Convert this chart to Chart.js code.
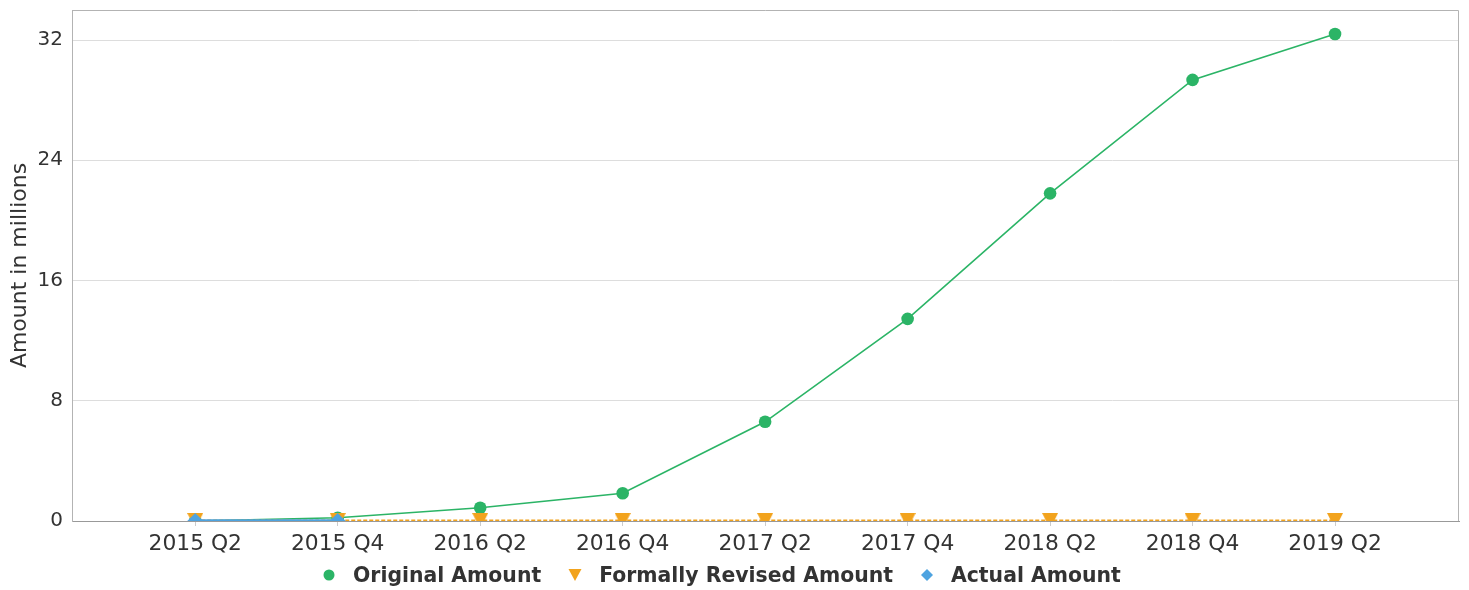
<!DOCTYPE html>
<html>
<head>
<meta charset="utf-8">
<script src="https://cdn.jsdelivr.net/npm/chart.js@4/dist/chart.umd.min.js"></script>
<style>
  html, body { margin: 0; padding: 0; background: #fff; }
  #wrap { width: 1469px; height: 590px; position: relative; overflow: hidden; }
  #legend {
    position: absolute; left: 322px; top: 562px; height: 26px;
    display: flex; align-items: center;
    font-family: 'DejaVu Sans', sans-serif; font-weight: bold; font-size: 20.4px;
    color: #333333; white-space: nowrap; line-height: 26px;
  }
  .item { display: flex; align-items: center; margin-right: 27px; }
  .item svg { width: 14px; height: 14px; margin-right: 17px; display: block; }
</style>
</head>
<body>
<div id="wrap">
  <canvas id="c" width="1469" height="590"></canvas>
  <div id="legend"></div>
</div>
<script>
const categories = ["2015 Q2", "2015 Q4", "2016 Q2", "2016 Q4", "2017 Q2", "2017 Q4", "2018 Q2", "2018 Q4", "2019 Q2"];
const originalAmount = [0, 0.22, 0.88, 1.85, 6.6, 13.45, 21.8, 29.35, 32.4];
const revisedAmount = [0, 0, 0, 0, 0, 0, 0, 0, 0];
const actualAmount = [0, 0];
const yTicks = [0, 8, 16, 24, 32];
const seriesNames = ["Original Amount", "Formally Revised Amount", "Actual Amount"];

const GREEN = '#2bb466', ORANGE = '#f2a31d', BLUE = '#4ea3e0';
const toPts = arr => arr.map((v, i) => ({ x: i, y: v }));
const FONT = "'DejaVu Sans', sans-serif";

// Highcharts-style down triangle marker (full box, point at bottom)
function triDown(size, color) {
  const c = document.createElement('canvas');
  c.width = size; c.height = size;
  const g = c.getContext('2d');
  g.fillStyle = color;
  g.beginPath(); g.moveTo(0, 0); g.lineTo(size, 0); g.lineTo(size / 2, size); g.closePath(); g.fill();
  return c;
}
const triImg = triDown(16, ORANGE);

const borderPlugin = {
  id: 'plotBorder',
  beforeDatasetsDraw(chart) {
    const a = chart.chartArea, ctx = chart.ctx;
    ctx.save();
    ctx.strokeStyle = '#b3b3b3';
    ctx.lineWidth = 1;
    ctx.beginPath();
    ctx.moveTo(Math.round(a.left), Math.round(a.top) + 0.5);
    ctx.lineTo(Math.round(a.right) - 0.5, Math.round(a.top) + 0.5);
    ctx.lineTo(Math.round(a.right) - 0.5, Math.round(a.bottom));
    ctx.stroke();
    ctx.restore();
  }
};

const clipBottom = { left: false, right: false, top: false, bottom: 0 };

const chart = new Chart(document.getElementById('c'), {
  type: 'line',
  data: {
    datasets: [
      {
        label: seriesNames[0],
        data: toPts(originalAmount),
        borderColor: GREEN,
        backgroundColor: GREEN,
        borderWidth: 1.6,
        pointStyle: 'circle',
        pointRadius: 6.3,
        pointBorderWidth: 0,
        pointHoverRadius: 6.3,
        clip: clipBottom,
        order: 2
      },
      {
        label: seriesNames[1],
        data: toPts(revisedAmount),
        borderColor: ORANGE,
        backgroundColor: ORANGE,
        borderWidth: 3,
        borderDash: [4, 2],
        pointStyle: triImg,
        pointRadius: 8,
        pointBorderWidth: 0,
        clip: clipBottom,
        order: 1
      },
      {
        label: seriesNames[2],
        data: toPts(actualAmount),
        borderColor: BLUE,
        backgroundColor: BLUE,
        borderWidth: 3.5,
        pointStyle: 'rectRot',
        pointRadius: 8,
        pointBorderWidth: 0,
        clip: clipBottom,
        order: 0
      }
    ]
  },
  options: {
    responsive: false,
    animation: false,
    devicePixelRatio: 1,
    layout: { padding: { top: 10, right: 10, left: 0, bottom: 30 } },
    plugins: {
      tooltip: { enabled: false },
      legend: { display: false }
    },
    scales: {
      x: {
        type: 'linear',
        min: -0.865,
        max: 8.87,
        afterBuildTicks: s => { s.ticks = categories.map((_, i) => ({ value: i })); },
        afterFit: s => { s.height = 39; s.paddingLeft = 0; s.paddingRight = 0; },
        grid: { drawOnChartArea: false, drawTicks: true, tickLength: 5, color: '#cccccc' },
        border: { display: true, color: '#999999' },
        ticks: {
          autoSkip: false,
          maxRotation: 0,
          padding: 5,
          color: '#333333',
          font: { family: FONT, size: 21.8 },
          callback: v => categories[v] ?? ''
        }
      },
      y: {
        min: 0,
        max: 34,
        afterBuildTicks: s => { s.ticks = yTicks.map(v => ({ value: v })); },
        afterFit: s => { s.width = 72; s.paddingTop = 0; s.paddingBottom = 0; },
        grid: { color: '#dddddd', drawTicks: false },
        border: { display: true, color: '#b3b3b3' },
        ticks: {
          padding: 9,
          color: '#333333',
          font: { family: FONT, size: 20 }
        },
        title: {
          display: true,
          text: 'Amount in millions',
          color: '#333333',
          padding: { top: 7, bottom: 0 },
          font: { family: FONT, size: 22 }
        }
      }
    }
  },
  plugins: [borderPlugin]
});

// HTML legend built from the chart's datasets
const markerSvg = {
  0: c => `<svg viewBox="0 0 14 14"><circle cx="7" cy="7" r="5.5" fill="${c}"/></svg>`,
  1: c => `<svg viewBox="0 0 14 14"><path d="M0.5 1 L13.5 1 L7 13 Z" fill="${c}"/></svg>`,
  2: c => `<svg viewBox="0 0 14 14"><path d="M7 1 L13 7 L7 13 L1 7 Z" fill="${c}"/></svg>`
};
const legendEl = document.getElementById('legend');
chart.data.datasets.forEach((ds, i) => {
  const item = document.createElement('div');
  item.className = 'item';
  item.innerHTML = markerSvg[i](ds.backgroundColor);
  const span = document.createElement('span');
  span.textContent = ds.label;
  item.appendChild(span);
  legendEl.appendChild(item);
});
</script>
</body>
</html>
